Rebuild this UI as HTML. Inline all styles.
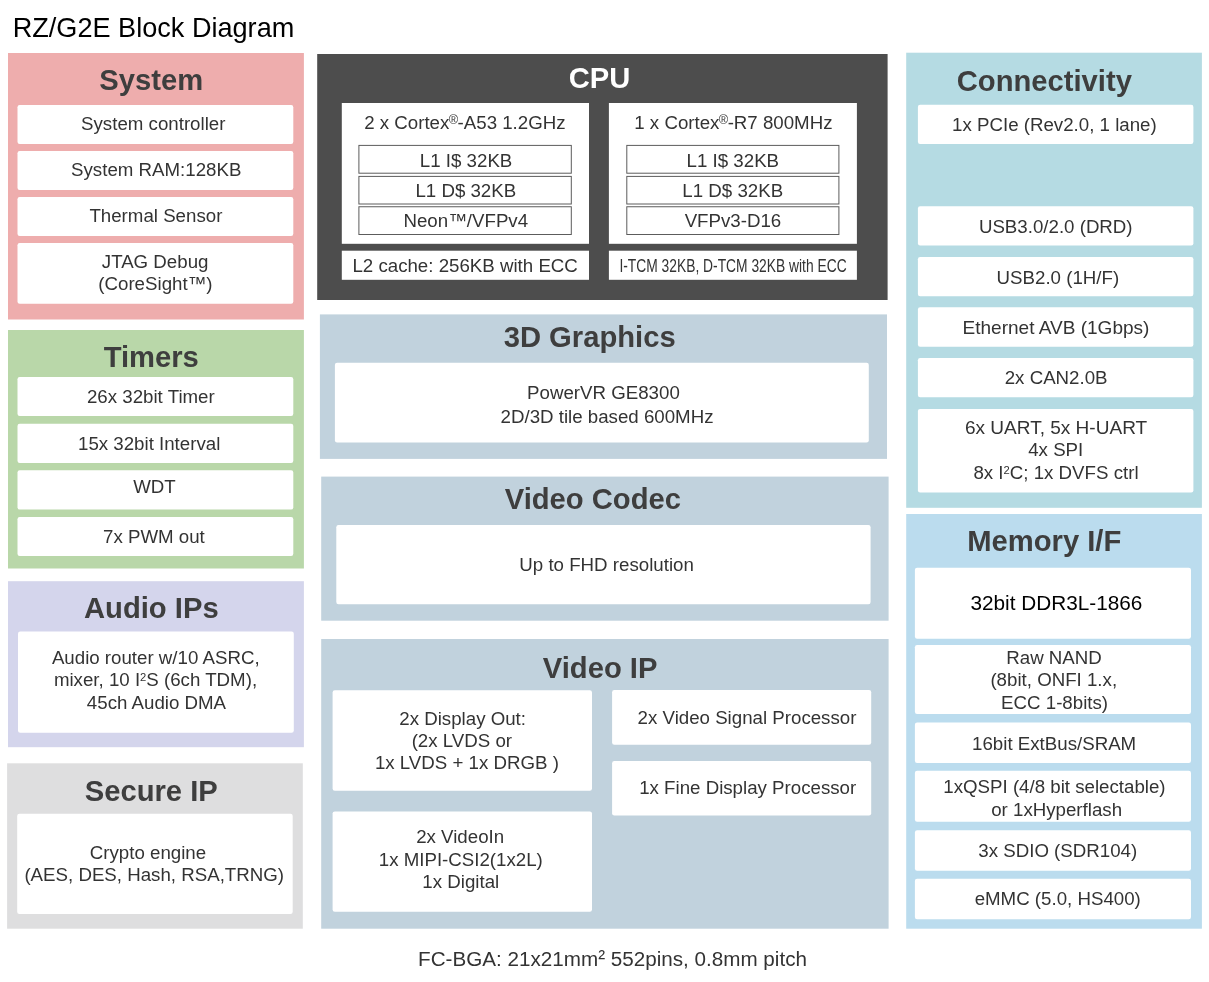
<!DOCTYPE html>
<html lang="en"><head><meta charset="utf-8"><title>RZ/G2E Block Diagram</title>
<style>
html,body{margin:0;padding:0;background:#fff}
body{width:1209px;height:982px;position:relative;overflow:hidden;font-family:"Liberation Sans",Arial,sans-serif}
.t,.h{position:absolute;width:500px;text-align:center;line-height:1;white-space:nowrap}
.t{font-size:18.7px;color:#333}
.h{font-size:29.2px;color:#3e3e3e;font-weight:bold}
sup{font-size:0.6em;line-height:0;vertical-align:baseline;position:relative;top:-0.45em}
.s2{position:relative;top:-1.5px}
.cond{transform:scaleX(0.72);transform-origin:center;font-size:19.2px}
sup.r{font-size:0.68em;margin:0 -0.6px;top:-0.4em}
</style></head><body>
<svg width="1209" height="982" viewBox="0 0 1209 982" style="position:absolute;left:0;top:0">
<rect x="8" y="53" width="295.90" height="266.50" fill="#eeadad"/>
<rect x="17.5" y="105" width="275.80" height="39.00" rx="2.2" fill="#fff"/>
<rect x="17.5" y="151" width="275.80" height="39.00" rx="2.2" fill="#fff"/>
<rect x="17.5" y="197" width="275.80" height="39.00" rx="2.2" fill="#fff"/>
<rect x="17.5" y="243" width="275.80" height="60.80" rx="2.2" fill="#fff"/>
<rect x="8" y="330" width="295.90" height="238.50" fill="#b9d7a9"/>
<rect x="17.5" y="377" width="275.80" height="39.00" rx="2.2" fill="#fff"/>
<rect x="17.5" y="423.7" width="275.80" height="39.30" rx="2.2" fill="#fff"/>
<rect x="17.5" y="470.3" width="275.80" height="39.20" rx="2.2" fill="#fff"/>
<rect x="17.5" y="517" width="275.80" height="39.00" rx="2.2" fill="#fff"/>
<rect x="8" y="581.2" width="295.90" height="166.00" fill="#d4d5ec"/>
<rect x="18" y="631.5" width="275.80" height="101.30" rx="2.2" fill="#fff"/>
<rect x="7.1" y="763.3" width="295.70" height="165.40" fill="#dededf"/>
<rect x="17.2" y="813.8" width="275.50" height="100.10" rx="2.2" fill="#fff"/>
<rect x="317.2" y="54" width="570.40" height="246.00" fill="#4d4d4d"/>
<rect x="341.8" y="103" width="247.20" height="140.80" fill="#fff"/>
<rect x="608.9" y="103" width="248.00" height="140.80" fill="#fff"/>
<rect x="358.9" y="145.4" width="212.40" height="27.80" fill="#fff" stroke="#5c5c5c" stroke-width="1"/>
<rect x="626.8" y="145.4" width="212.10" height="27.80" fill="#fff" stroke="#5c5c5c" stroke-width="1"/>
<rect x="358.9" y="176.4" width="212.40" height="27.60" fill="#fff" stroke="#5c5c5c" stroke-width="1"/>
<rect x="626.8" y="176.4" width="212.10" height="27.60" fill="#fff" stroke="#5c5c5c" stroke-width="1"/>
<rect x="358.9" y="206.75" width="212.40" height="27.75" fill="#fff" stroke="#5c5c5c" stroke-width="1"/>
<rect x="626.8" y="206.75" width="212.10" height="27.75" fill="#fff" stroke="#5c5c5c" stroke-width="1"/>
<rect x="341.8" y="250.7" width="247.20" height="29.10" fill="#fff"/>
<rect x="608.9" y="250.7" width="248.00" height="29.10" fill="#fff"/>
<rect x="319.9" y="314.4" width="567.10" height="144.50" fill="#c1d2dd"/>
<rect x="334.9" y="362.8" width="533.90" height="79.60" rx="2.2" fill="#fff"/>
<rect x="321.2" y="476.6" width="567.40" height="144.10" fill="#c1d2dd"/>
<rect x="336.3" y="525" width="534.30" height="79.30" rx="2.2" fill="#fff"/>
<rect x="321.2" y="639" width="567.40" height="289.70" fill="#c1d2dd"/>
<rect x="332.6" y="690.2" width="259.40" height="100.60" rx="2.2" fill="#fff"/>
<rect x="332.6" y="811.4" width="259.40" height="100.40" rx="2.2" fill="#fff"/>
<rect x="612.1" y="690.1" width="259.10" height="54.60" rx="2.2" fill="#fff"/>
<rect x="612.1" y="761" width="259.10" height="54.50" rx="2.2" fill="#fff"/>
<rect x="906.2" y="52.7" width="295.70" height="455.10" fill="#b5dbe3"/>
<rect x="917.9" y="104.8" width="275.50" height="39.20" rx="2.2" fill="#fff"/>
<rect x="917.9" y="206.2" width="275.50" height="39.20" rx="2.2" fill="#fff"/>
<rect x="917.9" y="257" width="275.50" height="39.20" rx="2.2" fill="#fff"/>
<rect x="917.9" y="307.3" width="275.50" height="39.40" rx="2.2" fill="#fff"/>
<rect x="917.9" y="358.1" width="275.50" height="39.20" rx="2.2" fill="#fff"/>
<rect x="917.9" y="408.9" width="275.50" height="83.60" rx="2.2" fill="#fff"/>
<rect x="906.2" y="514" width="295.70" height="414.70" fill="#bbdcee"/>
<rect x="914.9" y="567.8" width="276.10" height="70.90" rx="2.2" fill="#fff"/>
<rect x="914.9" y="645" width="276.10" height="68.90" rx="2.2" fill="#fff"/>
<rect x="914.9" y="722.6" width="276.10" height="40.40" rx="2.2" fill="#fff"/>
<rect x="914.9" y="770.7" width="276.10" height="51.10" rx="2.2" fill="#fff"/>
<rect x="914.9" y="830.3" width="276.10" height="40.50" rx="2.2" fill="#fff"/>
<rect x="914.9" y="878.7" width="276.10" height="40.50" rx="2.2" fill="#fff"/>
</svg>
<div class="h" style="left:-98.72px;top:66px">System</div>
<div class="t" style="left:-96.75px;top:115px">System controller</div>
<div class="t" style="left:-93.80px;top:161px">System RAM:128KB</div>
<div class="t" style="left:-94.10px;top:207px">Thermal Sensor</div>
<div class="t" style="left:-94.90px;top:253px">JTAG Debug</div>
<div class="t" style="left:-94.60px;top:275px">(CoreSight™)</div>
<div class="h" style="left:-98.75px;top:343px">Timers</div>
<div class="t" style="left:-99.15px;top:388px">26x 32bit Timer</div>
<div class="t" style="left:-100.85px;top:435px">15x 32bit Interval</div>
<div class="t" style="left:-95.55px;top:478px">WDT</div>
<div class="t" style="left:-96.10px;top:528px">7x PWM out</div>
<div class="h" style="left:-98.70px;top:594px">Audio IPs</div>
<div class="t" style="left:-94.25px;top:649px">Audio router w/10 ASRC,</div>
<div class="t" style="left:-94.50px;top:671px">mixer, 10 I<sup>2</sup>S (6ch TDM),</div>
<div class="t" style="left:-93.55px;top:694px">45ch Audio DMA</div>
<div class="h" style="left:-98.75px;top:777px">Secure IP</div>
<div class="t" style="left:-102.05px;top:844px">Crypto engine</div>
<div class="t" style="left:-95.80px;top:866px">(AES, DES, Hash, RSA,TRNG)</div>
<div class="h" style="left:349.50px;top:64px;color:#fff">CPU</div>
<div class="t" style="left:214.90px;top:114px">2 x Cortex<sup class='r'>®</sup>-A53 1.2GHz</div>
<div class="t" style="left:216.10px;top:152px">L1 I$ 32KB</div>
<div class="t" style="left:215.80px;top:182px">L1 D$ 32KB</div>
<div class="t" style="left:215.80px;top:212px">Neon™/VFPv4</div>
<div class="t" style="left:215.15px;top:257px">L2 cache: 256KB with ECC</div>
<div class="t" style="left:483.40px;top:114px">1 x Cortex<sup class='r'>®</sup>-R7 800MHz</div>
<div class="t" style="left:482.85px;top:152px">L1 I$ 32KB</div>
<div class="t" style="left:482.75px;top:182px">L1 D$ 32KB</div>
<div class="t" style="left:482.95px;top:212px">VFPv3-D16</div>
<div class="t cond" style="left:482.60px;top:256px">I-TCM 32KB, D-TCM 32KB with ECC</div>
<div class="h" style="left:339.70px;top:323px">3D Graphics</div>
<div class="t" style="left:353.45px;top:384px">PowerVR GE8300</div>
<div class="t" style="left:357.05px;top:408px">2D/3D tile based 600MHz</div>
<div class="h" style="left:342.85px;top:485px">Video Codec</div>
<div class="t" style="left:356.60px;top:556px">Up to FHD resolution</div>
<div class="h" style="left:350.15px;top:654px">Video IP</div>
<div class="t" style="left:212.65px;top:710px">2x Display Out:</div>
<div class="t" style="left:211.85px;top:732px">(2x LVDS or</div>
<div class="t" style="left:216.90px;top:754px">1x LVDS + 1x DRGB )</div>
<div class="t" style="left:210.15px;top:828px">2x VideoIn</div>
<div class="t" style="left:210.80px;top:851px">1x MIPI-CSI2(1x2L)</div>
<div class="t" style="left:210.80px;top:873px">1x Digital</div>
<div class="t" style="left:497.00px;top:709px">2x Video Signal Processor</div>
<div class="t" style="left:497.70px;top:779px">1x Fine Display Processor</div>
<div class="h" style="left:794.30px;top:67px">Connectivity</div>
<div class="t" style="left:804.40px;top:116px">1x PCIe (Rev2.0, 1 lane)</div>
<div class="t" style="left:805.75px;top:218px">USB3.0/2.0 (DRD)</div>
<div class="t" style="left:807.90px;top:269px">USB2.0 (1H/F)</div>
<div class="t" style="left:806.00px;top:318px;font-size:19.05px">Ethernet AVB (1Gbps)</div>
<div class="t" style="left:806.15px;top:369px">2x CAN2.0B</div>
<div class="t" style="left:806.05px;top:418px;font-size:19.05px">6x UART, 5x H-UART</div>
<div class="t" style="left:805.75px;top:441px">4x SPI</div>
<div class="t" style="left:806.00px;top:464px">8x I<sup>2</sup>C; 1x DVFS ctrl</div>
<div class="h" style="left:794.25px;top:527px">Memory I/F</div>
<div class="t" style="left:806.40px;top:593px;font-size:20.75px;color:#000">32bit DDR3L-1866</div>
<div class="t" style="left:804.05px;top:649px">Raw NAND</div>
<div class="t" style="left:803.75px;top:671px">(8bit, ONFI 1.x,</div>
<div class="t" style="left:804.60px;top:694px">ECC 1-8bits)</div>
<div class="t" style="left:804.15px;top:735px">16bit ExtBus/SRAM</div>
<div class="t" style="left:804.45px;top:778px">1xQSPI (4/8 bit selectable)</div>
<div class="t" style="left:806.65px;top:801px">or 1xHyperflash</div>
<div class="t" style="left:807.75px;top:842px">3x SDIO (SDR104)</div>
<div class="t" style="left:807.75px;top:890px">eMMC (5.0, HS400)</div>
<div class="t" style="left:362.50px;top:949px;font-size:20.65px">FC-BGA: 21x21mm<span class='s2'>²</span> 552pins, 0.8mm pitch</div>
<div class="t" style="left:-96.50px;top:14px;font-size:27.1px;color:#000">RZ/G2E Block Diagram</div>
</body></html>
